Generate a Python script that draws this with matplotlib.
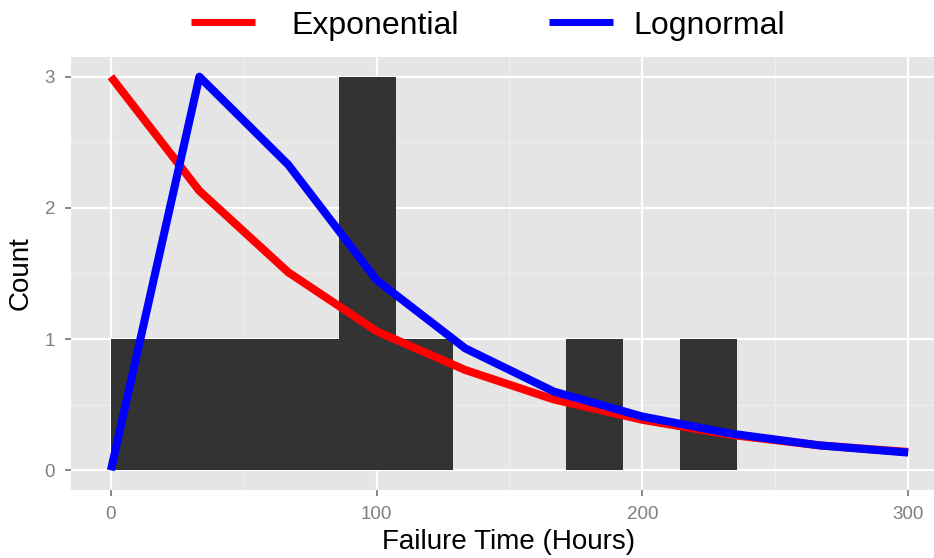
import numpy as np
import matplotlib
matplotlib.use("Agg")
import matplotlib.pyplot as plt
from matplotlib.lines import Line2D

plt.rcParams['font.family'] = ['Liberation Sans', 'DejaVu Sans']

# Histogram of failure times (bin width 300/14 hours)
bin_width = 300 / 14
bin_starts = [0.0, 21.43, 42.86, 64.29, 85.71, 107.14, 128.57, 150.0, 171.43, 192.86, 214.29]
bin_counts = [1, 1, 1, 1, 3, 1, 0, 0, 1, 0, 1]

# Fitted densities scaled to counts
fit_x = [0, 33.3, 66.7, 100, 133.3, 166.7, 200, 233.3, 266.7, 300]
exponential = [3.0, 2.13, 1.51, 1.06, 0.765, 0.54, 0.385, 0.27, 0.19, 0.14]
lognormal = [0.0, 3.0, 2.33, 1.45, 0.93, 0.60, 0.41, 0.28, 0.19, 0.135]

series_names = ['Exponential', 'Lognormal']
series_colors = ['#FF0000', '#0000FF']

x_ticks = [0, 100, 200, 300]
y_ticks = [0, 1, 2, 3]

W, H = 934, 558
fig = plt.figure(figsize=(W / 100, H / 100), dpi=100)
ax = fig.add_axes([71 / W, (H - 490) / H, 877 / W, (490 - 57) / H])

ax.set_facecolor('#E5E5E5')
for s in ax.spines.values():
    s.set_visible(False)

ax.set_xlim(-15, 315)
ax.set_ylim(-0.15, 3.15)

# grid
for v in [50, 150, 250]:
    ax.axvline(v, color='#EEEEEE', lw=1.0, zorder=0.5)
for v in [0.5, 1.5, 2.5]:
    ax.axhline(v, color='#EEEEEE', lw=1.0, zorder=0.5)
for v in x_ticks:
    ax.axvline(v, color='white', lw=1.6, zorder=0.6)
for v in y_ticks:
    ax.axhline(v, color='white', lw=1.6, zorder=0.6)

ax.bar(bin_starts, bin_counts, width=bin_width, align='edge',
       color='#333333', linewidth=0, zorder=1)

for vals, col, z in zip([exponential, lognormal], series_colors, [2, 3]):
    ax.plot(fit_x, vals, color=col, lw=5.8, zorder=z,
            solid_capstyle='butt', solid_joinstyle='round')

ax.set_xticks(x_ticks)
ax.set_yticks(y_ticks)
ax.tick_params(axis='both', colors='#7F7F7F', labelcolor='#7F7F7F',
               labelsize=13.5, length=4.5, width=1.3, pad=7)

ax.set_xlabel('Failure Time (Hours)', fontsize=20, labelpad=4)
ax.set_ylabel('Count', fontsize=20, labelpad=8)
ax.xaxis.label.set_position(((509 - 71) / 877, 0))

# legend strip above the panel
key_spans = [(191, 255), (549, 613)]
label_x = [291, 633]
key_y = 1 - 21.5 / H
for (x0, x1), lx, name, col in zip(key_spans, label_x, series_names, series_colors):
    fig.add_artist(Line2D([x0 / W, x1 / W], [key_y, key_y], transform=fig.transFigure,
                          color=col, lw=5, solid_capstyle='butt'))
    fig.text(lx / W, 1 - 22.5 / H, name, fontsize=23, ha='left', va='center_baseline')

fig.savefig('out.png', dpi=100, facecolor='white')
